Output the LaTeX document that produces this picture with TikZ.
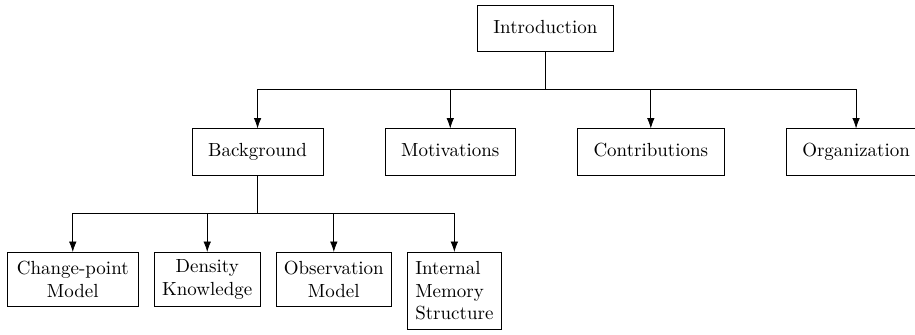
\documentclass[tikz,border=0pt]{standalone}
\usepackage{amsmath}
\usepackage{tikz}
\usetikzlibrary{positioning,arrows.meta}

\begin{document}
\begin{tikzpicture}[node distance=11.3mm, main/.style = {draw, inner xsep=3mm, inner ysep=7.7pt, text height=7pt, text depth=2pt}, leaf/.style = {draw, align=center, inner xsep=4pt, inner ysep=3.8pt, minimum height=28.4pt}, link/.style = {-{Latex[length=5.5pt,width=4pt]}}]
\useasboundingbox (0,0) rectangle (16.946,-6.186);
\node[main] (intro) at (10.10,-0.528) {Introduction};
\node[main] (back) at (4.77,-2.815) {Background};
\node[main] (motiv)[right = of back] {Motivations};
\node[main] (contrib)[right = of motiv] {Contributions};
\node[main] (organ)[right = of contrib] {Organization};
\node[leaf, anchor=north west, inner xsep=5pt] (change) at (0.130,-4.667) {Change-point\\Model};
\node[leaf] (density)[right = 2.9mm of change.north east, anchor=north west] {Density\\Knowledge};
\node[leaf] (observ)[right = 2.9mm of density.north east, anchor=north west] {Observation\\Model};
\node[leaf, align=left, minimum height=40.5pt] (memory)[right = 2.9mm of observ.north east, anchor=north west] {Internal\\Memory\\Structure};
% top level
\draw[link] (intro.south) -- ++(0,-0.7) -| (back.north);
\draw[link] (intro.south) -- ++(0,-0.7) -| (motiv.north);
\draw[link] (intro.south) -- ++(0,-0.7) -| (contrib.north);
\draw[link] (intro.south) -- ++(0,-0.7) -| (organ.north);
% background
\draw[link] (back.south) -- ++(0,-0.7) -| (change.north);
\draw[link] (back.south) -- ++(0,-0.7) -| (density.north);
\draw[link] (back.south) -- ++(0,-0.7) -| (observ.north);
\draw[link] (back.south) -- ++(0,-0.7) -| (memory.north);
\end{tikzpicture}
\end{document}
